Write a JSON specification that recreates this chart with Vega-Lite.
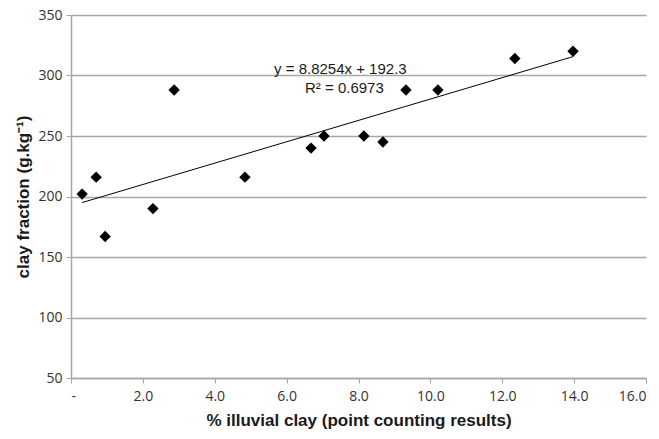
{
  "$schema": "https://vega.github.io/schema/vega-lite/v6.json",
  "width": 575,
  "height": 363,
  "autosize": {"type": "none"},
  "padding": {"left": 71, "top": 15, "right": 13, "bottom": 61},
  "background": "white",
  "config": {"view": {"stroke": null}},
  "datasets": {
    "pts": [
      {"illuvial": 0.31, "clay": 202},
      {"illuvial": 0.70, "clay": 216},
      {"illuvial": 0.95, "clay": 167},
      {"illuvial": 2.28, "clay": 190},
      {"illuvial": 2.87, "clay": 288},
      {"illuvial": 4.84, "clay": 216},
      {"illuvial": 6.68, "clay": 240},
      {"illuvial": 7.04, "clay": 250},
      {"illuvial": 8.15, "clay": 250},
      {"illuvial": 8.68, "clay": 245},
      {"illuvial": 9.32, "clay": 288},
      {"illuvial": 10.21, "clay": 288},
      {"illuvial": 12.35, "clay": 314},
      {"illuvial": 13.97, "clay": 320}
    ],
    "trend": [
      {"illuvial": 0.31, "clay": 195.0},
      {"illuvial": 13.97, "clay": 315.6}
    ],
    "labels": [
      {"lx": 5.65, "ly": 305.4, "label": "y = 8.8254x + 192.3"},
      {"lx": 6.51, "ly": 289.7, "label": "R² = 0.6973"}
    ]
  },
  "layer": [
    {
      "data": {"name": "trend"},
      "mark": {"type": "line", "color": "black", "strokeWidth": 1},
      "encoding": {
        "x": {
          "field": "illuvial", "type": "quantitative",
          "scale": {"domain": [0, 16], "nice": false, "zero": false},
          "axis": {
            "title": "% illuvial clay (point counting results)",
            "values": [0, 2, 4, 6, 8, 10, 12, 14, 16],
            "labelExpr": "datum.value == 0 ? '-' : format(datum.value, '.1f')",
            "grid": false,
            "domainColor": "#a6a6a6", "domainWidth": 1.5,
            "tickColor": "#a6a6a6", "tickWidth": 1, "tickSize": 5,
            "labelFont": "Open Sans", "labelFontSize": 14, "labelColor": "#333333",
            "labelPadding": 6,
            "titleFont": "Liberation Sans", "titleFontSize": 17, "titleFontWeight": "bold",
            "titleColor": "#1a1a1a", "titlePadding": 9
          }
        },
        "y": {
          "field": "clay", "type": "quantitative",
          "scale": {"domain": [50, 350], "nice": false, "zero": false},
          "axis": {
            "title": "clay fraction (g.kg⁻¹)",
            "values": [50, 100, 150, 200, 250, 300, 350],
            "grid": true, "gridColor": "#a6a6a6", "gridWidth": 1.5,
            "domainColor": "#a6a6a6", "domainWidth": 1.5,
            "tickColor": "#a6a6a6", "tickWidth": 1, "tickSize": 5,
            "labelFont": "Open Sans", "labelFontSize": 14, "labelColor": "#333333",
            "labelPadding": 4,
            "titleFont": "Liberation Sans", "titleFontSize": 17, "titleFontWeight": "bold",
            "titleColor": "#1a1a1a", "titlePadding": 5
          }
        }
      }
    },
    {
      "data": {"name": "pts"},
      "mark": {"type": "point", "shape": "diamond", "filled": true, "color": "black", "size": 130, "opacity": 1},
      "encoding": {
        "x": {"field": "illuvial", "type": "quantitative"},
        "y": {"field": "clay", "type": "quantitative"}
      }
    },
    {
      "data": {"name": "labels"},
      "mark": {"type": "text", "align": "left", "baseline": "middle", "font": "Liberation Sans", "fontSize": 15, "color": "#1a1a1a"},
      "encoding": {
        "x": {"field": "lx", "type": "quantitative"},
        "y": {"field": "ly", "type": "quantitative"},
        "text": {"field": "label"}
      }
    }
  ]
}
